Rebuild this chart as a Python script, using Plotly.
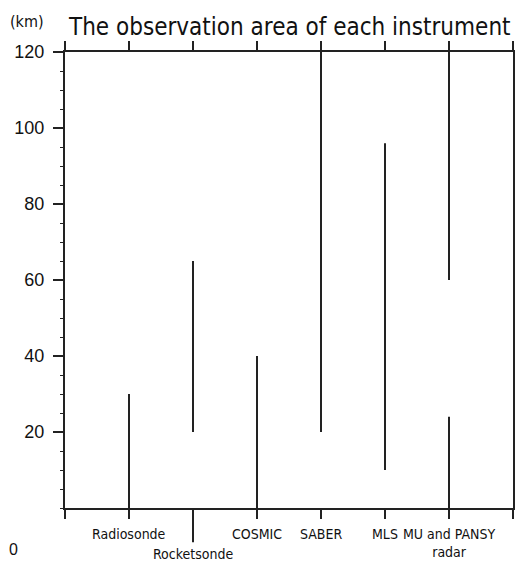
import plotly.graph_objects as go

# ---- data ----
instruments = ["Radiosonde", "Rocketsonde", "COSMIC", "SABER", "MLS", "MU and PANSY<br>radar"]
label_row = [0, 1, 0, 0, 0, 0]           # 1 = label drawn one line lower
seg_pos = [1, 2, 3, 4, 5, 6, 6]          # instrument index of each observed segment
seg_low = [0, 20, 0, 20, 10, 0, 60]      # km
seg_high = [30, 65, 40, 120, 96, 24, 120]  # km
y_ticks = [20, 40, 60, 80, 100, 120]

LINE = "#222222"
NARROW = "DejaVu Sans Condensed, DejaVu Sans, sans-serif"

xs, ys = [], []
for p, lo, hi in zip(seg_pos, seg_low, seg_high):
    xs += [p, p, None]
    ys += [lo, hi, None]

fig = go.Figure()
fig.add_trace(go.Scatter(x=xs, y=ys, mode="lines",
                         line=dict(color=LINE, width=2), showlegend=False,
                         hoverinfo="skip", cliponaxis=False))

fig.update_layout(
    width=515, height=563,
    margin=dict(l=65, r=2, t=52, b=55, autoexpand=False),
    paper_bgcolor="white", plot_bgcolor="white",
    showlegend=False,
    xaxis=dict(range=[0, 7], tickvals=list(range(0, 8)), showticklabels=False,
               automargin=False,
               showgrid=False, zeroline=False, showline=True, linewidth=2,
               linecolor=LINE, mirror="allticks", ticks="outside", ticklen=9,
               tickwidth=2, tickcolor=LINE),
    yaxis=dict(range=[0, 120], tickvals=y_ticks, automargin=False,
               showgrid=False, zeroline=False, showline=True, linewidth=2,
               linecolor=LINE, mirror="allticks", ticks="outside", ticklen=10,
               tickwidth=2, tickcolor=LINE,
               minor=dict(dtick=5, ticks="outside", ticklen=3, tickwidth=1,
                          tickcolor=LINE, showgrid=False),
               tickfont=dict(family="Liberation Sans, Arial, sans-serif", size=18, color="#111"),
               ticklabelstandoff=5),
)

# instrument labels under the axis
for i, (name, row) in enumerate(zip(instruments, label_row)):
    fig.add_annotation(text=name, xref="x", yref="paper", x=i + 1, y=0,
                       yshift=-16 - 20 * row, xanchor="center", yanchor="top",
                       showarrow=False, align="center",
                       font=dict(family=NARROW, size=14, color="#111"))

# long tick under Rocketsonde pointing to its lowered label
fig.add_shape(type="line", xref="x", yref="y domain", x0=2, x1=2, y0=0, y1=-0.075,
              line=dict(color=LINE, width=2))

fig.add_annotation(text="The observation area of each instrument", xref="paper", yref="paper",
                   x=0.5, y=1.0, yshift=9, xanchor="center", yanchor="bottom", showarrow=False,
                   font=dict(family=NARROW, size=24, color="#111"))
fig.add_annotation(text="(km)", xref="paper", yref="paper", x=-0.085, y=1.0658,
                   xanchor="center", yanchor="middle", showarrow=False,
                   font=dict(family=NARROW, size=16, color="#111"))
fig.add_annotation(text="0", xref="paper", yref="paper", x=-0.116, y=-0.092,
                   xanchor="center", yanchor="middle", showarrow=False,
                   font=dict(family="Liberation Sans, Arial, sans-serif", size=16, color="#111"))

fig.write_html("out.html")
